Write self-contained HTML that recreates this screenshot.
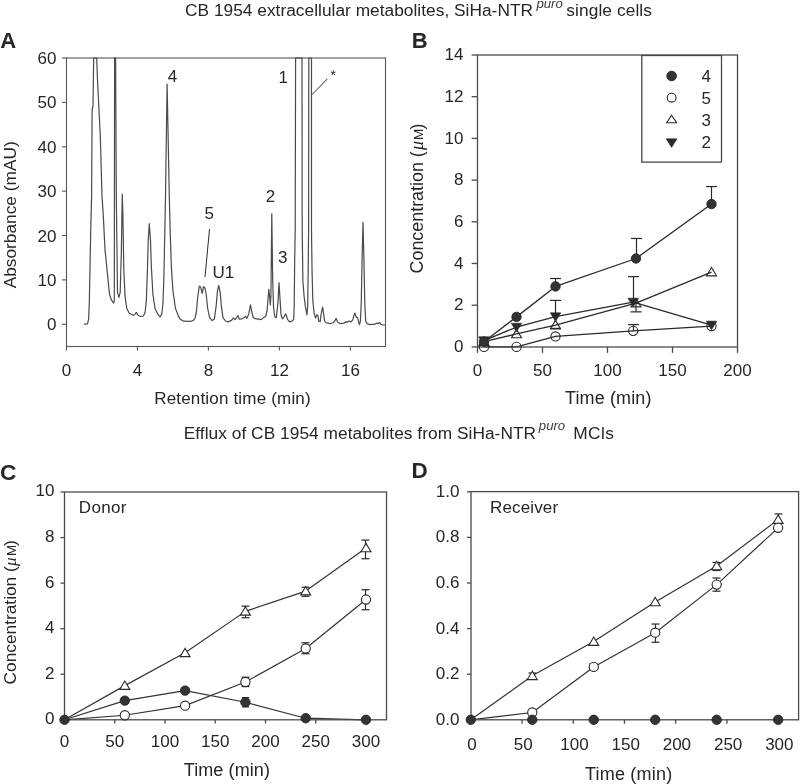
<!DOCTYPE html>
<html><head><meta charset="utf-8"><style>
html,body{margin:0;padding:0;background:#fff;width:800px;height:784px;overflow:hidden}
svg{display:block;will-change:transform}
</style></head><body>
<svg width="800" height="784" viewBox="0 0 800 784" font-family='"Liberation Sans", sans-serif' fill="#262626">
<rect width="800" height="784" fill="#fff"/>
<text id="t1a" letter-spacing="0.03" x="185" y="16.2" font-size="17.3" text-anchor="start" font-weight="normal" >CB 1954 extracellular metabolites, SiHa-NTR</text>
<text id="t1b" x="536.4" y="7.9" font-size="13.2" text-anchor="start" font-weight="normal" font-style="italic" fill="#3a3a3a">puro</text>
<text id="t1c" letter-spacing="0.1" x="566.3" y="16.2" font-size="17.3" text-anchor="start" font-weight="normal" >single cells</text>
<text id="t2a" letter-spacing="0.05" x="183.7" y="438.8" font-size="17.3" text-anchor="start" font-weight="normal" >Efflux of CB 1954 metabolites from SiHa-NTR</text>
<text id="t2b" x="538.8" y="430.3" font-size="13.2" text-anchor="start" font-weight="normal" font-style="italic" fill="#3a3a3a">puro</text>
<text id="t2c" letter-spacing="0.4" x="573.3" y="438.8" font-size="17.3" text-anchor="start" font-weight="normal" >MCls</text>
<text id="lA" x="0.3" y="48.2" font-size="22" text-anchor="start" font-weight="bold" >A</text>
<text id="lB" x="411.8" y="47.6" font-size="22" text-anchor="start" font-weight="bold" >B</text>
<text id="lC" x="-0.1" y="480.1" font-size="22.7" text-anchor="start" font-weight="bold" >C</text>
<text id="lD" x="411.4" y="477.5" font-size="22.5" text-anchor="start" font-weight="bold" >D</text>
<rect x="66.5" y="58" width="319.0" height="288.5" fill="none" stroke="#555" stroke-width="1.1"/>
<line x1="62.00" y1="324.25" x2="66.50" y2="324.25" stroke="#555" stroke-width="1.1" />
<text x="56.5" y="330.25" font-size="17" text-anchor="end" font-weight="normal" >0</text>
<line x1="62.00" y1="279.88" x2="66.50" y2="279.88" stroke="#555" stroke-width="1.1" />
<text x="56.5" y="285.875" font-size="17" text-anchor="end" font-weight="normal" >10</text>
<line x1="62.00" y1="235.50" x2="66.50" y2="235.50" stroke="#555" stroke-width="1.1" />
<text x="56.5" y="241.5" font-size="17" text-anchor="end" font-weight="normal" >20</text>
<line x1="62.00" y1="191.12" x2="66.50" y2="191.12" stroke="#555" stroke-width="1.1" />
<text x="56.5" y="197.125" font-size="17" text-anchor="end" font-weight="normal" >30</text>
<line x1="62.00" y1="146.75" x2="66.50" y2="146.75" stroke="#555" stroke-width="1.1" />
<text x="56.5" y="152.75" font-size="17" text-anchor="end" font-weight="normal" >40</text>
<line x1="62.00" y1="102.38" x2="66.50" y2="102.38" stroke="#555" stroke-width="1.1" />
<text x="56.5" y="108.375" font-size="17" text-anchor="end" font-weight="normal" >50</text>
<line x1="62.00" y1="58.00" x2="66.50" y2="58.00" stroke="#555" stroke-width="1.1" />
<text x="56.5" y="64.0" font-size="17" text-anchor="end" font-weight="normal" >60</text>
<line x1="66.40" y1="346.50" x2="66.40" y2="350.50" stroke="#555" stroke-width="1.1" />
<text x="66.4" y="375.8" font-size="17" text-anchor="middle" font-weight="normal" >0</text>
<line x1="137.40" y1="346.50" x2="137.40" y2="350.50" stroke="#555" stroke-width="1.1" />
<text x="137.4" y="375.8" font-size="17" text-anchor="middle" font-weight="normal" >4</text>
<line x1="208.40" y1="346.50" x2="208.40" y2="350.50" stroke="#555" stroke-width="1.1" />
<text x="208.4" y="375.8" font-size="17" text-anchor="middle" font-weight="normal" >8</text>
<line x1="279.40" y1="346.50" x2="279.40" y2="350.50" stroke="#555" stroke-width="1.1" />
<text x="279.4" y="375.8" font-size="17" text-anchor="middle" font-weight="normal" >12</text>
<line x1="350.40" y1="346.50" x2="350.40" y2="350.50" stroke="#555" stroke-width="1.1" />
<text x="350.4" y="375.8" font-size="17" text-anchor="middle" font-weight="normal" >16</text>
<text id="xA" letter-spacing="0.18" x="232.5" y="403.7" font-size="17" text-anchor="middle" font-weight="normal" >Retention time (min)</text>
<text id="yA" x="15.8" y="214.8" font-size="17.3" text-anchor="middle" font-weight="normal" transform="rotate(-90 15.8 214.8)">Absorbance (mAU)</text>
<polyline points="83.90,324.20 87.50,323.90 88.60,319.20 89.30,303.10 90.00,267.40 90.70,231.70 91.60,196.00 92.10,113.00 92.30,109.00 93.00,106.00 93.70,58.00 96.70,58.00 97.50,80.00 100.30,136.00 102.00,196.00 103.20,213.90 105.00,249.60 107.70,276.40 109.50,294.20 111.25,299.60 113.60,303.10 114.30,301.40 114.60,58.00 115.60,58.00 116.30,196.00 117.50,292.40 118.90,297.40 120.20,292.40 121.40,249.60 122.25,194.00 122.90,213.90 123.75,267.40 125.00,296.00 126.80,308.50 129.10,313.00 133.20,315.30 134.50,314.75 136.25,312.40 138.00,315.30 140.70,316.50 143.40,316.00 145.20,312.00 146.40,299.60 147.50,267.40 148.20,240.60 149.30,223.70 150.50,240.60 151.40,267.40 152.90,294.20 155.00,308.50 157.70,313.90 160.00,317.00 161.80,313.90 163.00,303.00 163.90,276.40 164.80,231.70 165.50,196.00 167.10,84.10 169.30,196.00 170.20,231.70 171.40,267.40 172.90,290.60 175.50,308.50 178.20,315.60 180.00,318.90 183.60,321.20 191.00,321.30 193.50,320.30 195.00,318.00 196.40,312.00 197.60,298.00 199.30,286.20 200.70,287.00 202.10,293.30 203.60,286.70 205.00,288.00 206.40,296.00 207.70,308.50 209.50,317.40 212.10,320.60 214.30,319.20 216.10,306.70 217.50,290.60 218.75,285.30 220.20,292.40 221.40,306.70 222.90,317.40 225.50,321.00 228.20,321.90 231.80,320.10 233.20,318.00 235.00,319.60 236.80,317.40 238.00,315.60 239.30,319.20 241.60,318.90 243.90,317.80 245.70,316.50 247.00,318.30 248.75,313.90 250.50,304.90 251.80,312.00 253.20,317.40 255.90,318.90 258.60,319.20 261.25,319.60 263.90,317.40 265.70,316.50 267.10,310.30 268.80,289.30 269.80,298.40 270.30,305.00 270.90,296.40 271.80,213.80 272.65,278.00 273.50,306.60 274.70,316.80 276.30,317.80 278.00,302.50 279.00,282.50 280.00,298.40 281.00,314.80 282.40,318.90 284.10,316.80 285.70,313.80 287.55,319.30 289.50,321.80 292.00,321.20 293.70,319.30 294.20,306.50 294.60,268.30 295.20,230.00 295.60,58.00 302.00,58.00 302.20,230.00 302.90,281.00 304.10,296.30 305.40,306.50 306.90,314.80 307.70,306.50 308.20,268.30 308.60,230.00 308.80,58.00 311.50,58.00 311.50,230.00 312.00,268.30 312.80,300.20 314.10,312.90 315.60,318.00 316.90,314.80 317.90,315.50 318.80,321.20 320.10,321.80 321.35,312.90 322.60,307.20 323.50,312.90 324.50,320.60 325.80,322.50 327.70,323.10 330.00,323.75 333.00,322.80 334.80,321.00 336.10,318.30 337.50,321.90 340.20,323.70 343.75,323.10 346.10,321.90 347.30,322.40 349.10,321.00 350.90,321.90 352.70,320.10 353.90,315.60 355.00,313.00 356.25,317.40 357.50,317.40 358.60,321.90 359.50,324.60 360.40,321.00 361.25,303.10 362.10,258.50 363.00,222.40 363.90,258.50 364.80,303.10 365.70,321.00 367.00,323.70 370.50,324.60 375.00,324.20 376.80,323.10 378.20,323.70 379.50,322.40 380.70,324.20 383.00,325.00 385.00,325.00" fill="none" stroke="#4a4a4a" stroke-width="1.2" stroke-linejoin="round"/>
<text x="167.8" y="81.8" font-size="17" text-anchor="start" font-weight="normal" >4</text>
<text x="278.5" y="83.2" font-size="17" text-anchor="start" font-weight="normal" >1</text>
<text x="330.5" y="80" font-size="14" text-anchor="start" font-weight="normal" >*</text>
<line x1="312.00" y1="94.60" x2="327.40" y2="78.90" stroke="#2a2a2a" stroke-width="1.0" />
<text x="204.5" y="218.9" font-size="17" text-anchor="start" font-weight="normal" >5</text>
<line x1="209.50" y1="229.00" x2="205.00" y2="277.25" stroke="#2a2a2a" stroke-width="1.0" />
<text x="212.5" y="278.1" font-size="17" text-anchor="start" font-weight="normal" >U1</text>
<text x="265.7" y="201.5" font-size="17" text-anchor="start" font-weight="normal" >2</text>
<text x="278" y="262.7" font-size="17" text-anchor="start" font-weight="normal" >3</text>
<polyline points="484.00,346.90 516.50,346.90 555.50,336.47 633.20,330.85 711.50,326.05" fill="none" stroke="#2a2a2a" stroke-width="1.3" stroke-linejoin="round"/>
<polyline points="484.00,341.69 516.50,333.97 555.50,325.01 636.00,303.11 711.50,272.05" fill="none" stroke="#2a2a2a" stroke-width="1.3" stroke-linejoin="round"/>
<polyline points="484.00,340.64 516.50,327.09 555.50,316.67 633.20,302.07 711.50,325.01" fill="none" stroke="#2a2a2a" stroke-width="1.3" stroke-linejoin="round"/>
<polyline points="484.00,341.69 516.50,316.88 555.50,286.43 636.00,258.50 711.50,204.08" fill="none" stroke="#2a2a2a" stroke-width="1.3" stroke-linejoin="round"/>
<rect x="477.5" y="55" width="260.0" height="292" fill="none" stroke="#4a4a4a" stroke-width="1.3"/>
<line x1="471.60" y1="346.90" x2="477.50" y2="346.90" stroke="#4a4a4a" stroke-width="1.3" />
<text x="463.5" y="352.0" font-size="17" text-anchor="end" font-weight="normal" >0</text>
<line x1="471.60" y1="305.20" x2="477.50" y2="305.20" stroke="#4a4a4a" stroke-width="1.3" />
<text x="463.5" y="310.3" font-size="17" text-anchor="end" font-weight="normal" >2</text>
<line x1="471.60" y1="263.50" x2="477.50" y2="263.50" stroke="#4a4a4a" stroke-width="1.3" />
<text x="463.5" y="268.6" font-size="17" text-anchor="end" font-weight="normal" >4</text>
<line x1="471.60" y1="221.80" x2="477.50" y2="221.80" stroke="#4a4a4a" stroke-width="1.3" />
<text x="463.5" y="226.89999999999995" font-size="17" text-anchor="end" font-weight="normal" >6</text>
<line x1="471.60" y1="180.10" x2="477.50" y2="180.10" stroke="#4a4a4a" stroke-width="1.3" />
<text x="463.5" y="185.19999999999996" font-size="17" text-anchor="end" font-weight="normal" >8</text>
<line x1="471.60" y1="138.40" x2="477.50" y2="138.40" stroke="#4a4a4a" stroke-width="1.3" />
<text x="463.5" y="143.49999999999997" font-size="17" text-anchor="end" font-weight="normal" >10</text>
<line x1="471.60" y1="96.70" x2="477.50" y2="96.70" stroke="#4a4a4a" stroke-width="1.3" />
<text x="463.5" y="101.79999999999995" font-size="17" text-anchor="end" font-weight="normal" >12</text>
<line x1="471.60" y1="55.00" x2="477.50" y2="55.00" stroke="#4a4a4a" stroke-width="1.3" />
<text x="463.5" y="60.099999999999945" font-size="17" text-anchor="end" font-weight="normal" >14</text>
<line x1="477.50" y1="347.00" x2="477.50" y2="352.90" stroke="#4a4a4a" stroke-width="1.3" />
<text x="477.5" y="375.8" font-size="17" text-anchor="middle" font-weight="normal" >0</text>
<line x1="542.50" y1="347.00" x2="542.50" y2="352.90" stroke="#4a4a4a" stroke-width="1.3" />
<text x="542.5" y="375.8" font-size="17" text-anchor="middle" font-weight="normal" >50</text>
<line x1="607.50" y1="347.00" x2="607.50" y2="352.90" stroke="#4a4a4a" stroke-width="1.3" />
<text x="607.5" y="375.8" font-size="17" text-anchor="middle" font-weight="normal" >100</text>
<line x1="672.50" y1="347.00" x2="672.50" y2="352.90" stroke="#4a4a4a" stroke-width="1.3" />
<text x="672.5" y="375.8" font-size="17" text-anchor="middle" font-weight="normal" >150</text>
<line x1="737.50" y1="347.00" x2="737.50" y2="352.90" stroke="#4a4a4a" stroke-width="1.3" />
<text x="737.5" y="375.8" font-size="17" text-anchor="middle" font-weight="normal" >200</text>
<text id="xB" letter-spacing="0.13" x="608.3" y="404" font-size="18" text-anchor="middle" font-weight="normal" >Time (min)</text>
<g id="yB" transform="translate(422.6,272.6) rotate(-90)">
<text x="-0.9" y="0" font-size="17.9" text-anchor="start" font-weight="normal" >Concentration (</text>
<text x="122.7" y="0" font-size="17.9" text-anchor="start" font-weight="normal" font-family="Liberation Serif" font-style="italic">μ</text>
<text x="132.6" y="0" font-size="13.6" text-anchor="start" font-weight="normal" >M</text>
<text x="143.2" y="0" font-size="17.9" text-anchor="start" font-weight="normal" >)</text>
</g>
<line x1="555.50" y1="286.43" x2="555.50" y2="278.51" stroke="#2a2a2a" stroke-width="1.2" />
<line x1="550.00" y1="278.51" x2="561.00" y2="278.51" stroke="#2a2a2a" stroke-width="1.2" />
<line x1="636.50" y1="258.50" x2="636.50" y2="238.48" stroke="#2a2a2a" stroke-width="1.2" />
<line x1="631.00" y1="238.48" x2="642.00" y2="238.48" stroke="#2a2a2a" stroke-width="1.2" />
<line x1="711.50" y1="204.08" x2="711.50" y2="186.56" stroke="#2a2a2a" stroke-width="1.2" />
<line x1="706.00" y1="186.56" x2="717.00" y2="186.56" stroke="#2a2a2a" stroke-width="1.2" />
<line x1="633.50" y1="330.85" x2="633.50" y2="324.59" stroke="#2a2a2a" stroke-width="1.2" />
<line x1="628.00" y1="324.59" x2="639.00" y2="324.59" stroke="#2a2a2a" stroke-width="1.2" />
<line x1="555.50" y1="316.67" x2="555.50" y2="300.40" stroke="#2a2a2a" stroke-width="1.2" />
<line x1="550.00" y1="300.40" x2="561.00" y2="300.40" stroke="#2a2a2a" stroke-width="1.2" />
<line x1="633.50" y1="302.07" x2="633.50" y2="276.64" stroke="#2a2a2a" stroke-width="1.2" />
<line x1="628.00" y1="276.64" x2="639.00" y2="276.64" stroke="#2a2a2a" stroke-width="1.2" />
<line x1="636.00" y1="303.11" x2="636.00" y2="311.87" stroke="#2a2a2a" stroke-width="1.2" />
<line x1="630.50" y1="311.87" x2="641.50" y2="311.87" stroke="#2a2a2a" stroke-width="1.2" />
<line x1="550.00" y1="328.55" x2="561.00" y2="328.55" stroke="#2a2a2a" stroke-width="1.6" />
<circle cx="484.00" cy="346.90" r="4.6" fill="none" stroke="#2a2a2a" stroke-width="1.1"/>
<circle cx="516.50" cy="346.90" r="4.6" fill="none" stroke="#2a2a2a" stroke-width="1.1"/>
<circle cx="555.50" cy="336.47" r="4.6" fill="none" stroke="#2a2a2a" stroke-width="1.1"/>
<circle cx="633.20" cy="330.85" r="4.6" fill="none" stroke="#2a2a2a" stroke-width="1.1"/>
<circle cx="711.50" cy="326.05" r="4.6" fill="none" stroke="#2a2a2a" stroke-width="1.1"/>
<polygon points="484.00,337.07 479.00,345.47 489.00,345.47" fill="none" stroke="#2a2a2a" stroke-width="1.1" stroke-linejoin="miter"/>
<polygon points="516.50,329.35 511.50,337.75 521.50,337.75" fill="none" stroke="#2a2a2a" stroke-width="1.1" stroke-linejoin="miter"/>
<polygon points="555.50,320.39 550.50,328.79 560.50,328.79" fill="none" stroke="#2a2a2a" stroke-width="1.1" stroke-linejoin="miter"/>
<polygon points="636.00,298.49 631.00,306.89 641.00,306.89" fill="none" stroke="#2a2a2a" stroke-width="1.1" stroke-linejoin="miter"/>
<polygon points="711.50,267.43 706.50,275.83 716.50,275.83" fill="none" stroke="#2a2a2a" stroke-width="1.1" stroke-linejoin="miter"/>
<polygon points="478.70,336.77 489.30,336.77 484.00,345.38" fill="#2a2a2a" stroke="#2a2a2a" stroke-width="0.6"/>
<polygon points="511.20,323.22 521.80,323.22 516.50,331.82" fill="#2a2a2a" stroke="#2a2a2a" stroke-width="0.6"/>
<polygon points="550.20,312.80 560.80,312.80 555.50,321.40" fill="#2a2a2a" stroke="#2a2a2a" stroke-width="0.6"/>
<polygon points="627.90,298.20 638.50,298.20 633.20,306.80" fill="#2a2a2a" stroke="#2a2a2a" stroke-width="0.6"/>
<polygon points="706.20,321.14 716.80,321.14 711.50,329.74" fill="#2a2a2a" stroke="#2a2a2a" stroke-width="0.6"/>
<circle cx="484.00" cy="341.69" r="4.7" fill="#333" stroke="#262626" stroke-width="0.9"/>
<circle cx="516.50" cy="316.88" r="4.7" fill="#333" stroke="#262626" stroke-width="0.9"/>
<circle cx="555.50" cy="286.43" r="4.7" fill="#333" stroke="#262626" stroke-width="0.9"/>
<circle cx="636.00" cy="258.50" r="4.7" fill="#333" stroke="#262626" stroke-width="0.9"/>
<circle cx="711.50" cy="204.08" r="4.7" fill="#333" stroke="#262626" stroke-width="0.9"/>
<rect x="641.8" y="55.5" width="79.7" height="106.6" fill="#fff" stroke="#4a4a4a" stroke-width="1.3"/>
<circle cx="671.60" cy="76.00" r="4.8" fill="#333" stroke="#262626" stroke-width="0.9"/>
<circle cx="671.60" cy="97.70" r="4.4" fill="#fff" stroke="#2a2a2a" stroke-width="1.1"/>
<polygon points="671.60,115.22 666.60,122.82 676.60,122.82" fill="#fff" stroke="#2a2a2a" stroke-width="1.1" stroke-linejoin="miter"/>
<polygon points="666.20,138.83 677.00,138.83 671.60,147.43" fill="#2a2a2a" stroke="#2a2a2a" stroke-width="0.6"/>
<text x="701.5" y="82.1" font-size="17" text-anchor="start" font-weight="normal" >4</text>
<text x="701.5" y="104.0" font-size="17" text-anchor="start" font-weight="normal" >5</text>
<text x="701.5" y="125.8" font-size="17" text-anchor="start" font-weight="normal" >3</text>
<text x="701.5" y="147.6" font-size="17" text-anchor="start" font-weight="normal" >2</text>
<polyline points="64.50,719.80 124.80,685.63 185.10,652.83 245.40,611.37 305.70,591.09 366.00,548.04" fill="none" stroke="#333333" stroke-width="1.2" stroke-linejoin="round"/>
<polyline points="64.50,719.80 124.80,715.24 185.10,705.68 245.40,681.99 305.70,648.50 366.00,599.52" fill="none" stroke="#333333" stroke-width="1.2" stroke-linejoin="round"/>
<polyline points="64.50,719.80 124.80,700.66 185.10,690.64 245.40,702.26 305.70,718.21 366.00,719.80" fill="none" stroke="#333333" stroke-width="1.2" stroke-linejoin="round"/>
<rect x="64.5" y="492" width="322.0" height="227.79999999999995" fill="none" stroke="#4a4a4a" stroke-width="1.3"/>
<line x1="60.50" y1="719.80" x2="64.50" y2="719.80" stroke="#4a4a4a" stroke-width="1.3" />
<text x="54.5" y="724.1999999999999" font-size="17" text-anchor="end" font-weight="normal" >0</text>
<line x1="60.50" y1="674.24" x2="64.50" y2="674.24" stroke="#4a4a4a" stroke-width="1.3" />
<text x="54.5" y="678.64" font-size="17" text-anchor="end" font-weight="normal" >2</text>
<line x1="60.50" y1="628.68" x2="64.50" y2="628.68" stroke="#4a4a4a" stroke-width="1.3" />
<text x="54.5" y="633.0799999999999" font-size="17" text-anchor="end" font-weight="normal" >4</text>
<line x1="60.50" y1="583.12" x2="64.50" y2="583.12" stroke="#4a4a4a" stroke-width="1.3" />
<text x="54.5" y="587.5199999999999" font-size="17" text-anchor="end" font-weight="normal" >6</text>
<line x1="60.50" y1="537.56" x2="64.50" y2="537.56" stroke="#4a4a4a" stroke-width="1.3" />
<text x="54.5" y="541.9599999999999" font-size="17" text-anchor="end" font-weight="normal" >8</text>
<line x1="60.50" y1="492.00" x2="64.50" y2="492.00" stroke="#4a4a4a" stroke-width="1.3" />
<text x="54.5" y="496.3999999999999" font-size="17" text-anchor="end" font-weight="normal" >10</text>
<line x1="64.50" y1="719.80" x2="64.50" y2="723.50" stroke="#4a4a4a" stroke-width="1.3" />
<text x="64.5" y="747.4" font-size="17" text-anchor="middle" font-weight="normal" >0</text>
<line x1="114.75" y1="719.80" x2="114.75" y2="723.50" stroke="#4a4a4a" stroke-width="1.3" />
<text x="114.75" y="747.4" font-size="17" text-anchor="middle" font-weight="normal" >50</text>
<line x1="165.00" y1="719.80" x2="165.00" y2="723.50" stroke="#4a4a4a" stroke-width="1.3" />
<text x="165.0" y="747.4" font-size="17" text-anchor="middle" font-weight="normal" >100</text>
<line x1="215.25" y1="719.80" x2="215.25" y2="723.50" stroke="#4a4a4a" stroke-width="1.3" />
<text x="215.24999999999997" y="747.4" font-size="17" text-anchor="middle" font-weight="normal" >150</text>
<line x1="265.50" y1="719.80" x2="265.50" y2="723.50" stroke="#4a4a4a" stroke-width="1.3" />
<text x="265.5" y="747.4" font-size="17" text-anchor="middle" font-weight="normal" >200</text>
<line x1="315.75" y1="719.80" x2="315.75" y2="723.50" stroke="#4a4a4a" stroke-width="1.3" />
<text x="315.75" y="747.4" font-size="17" text-anchor="middle" font-weight="normal" >250</text>
<line x1="366.00" y1="719.80" x2="366.00" y2="723.50" stroke="#4a4a4a" stroke-width="1.3" />
<text x="365.99999999999994" y="747.4" font-size="17" text-anchor="middle" font-weight="normal" >300</text>
<text id="xC" letter-spacing="0.1" x="226.9" y="775.9" font-size="18" text-anchor="middle" font-weight="normal" >Time (min)</text>
<g id="yC" transform="translate(16.3,683.5) rotate(-90)">
<text x="-0.9" y="0" font-size="17.3" text-anchor="start" font-weight="normal" >Concentration (</text>
<text x="117.6" y="0" font-size="17.3" text-anchor="start" font-weight="normal" font-family="Liberation Serif" font-style="italic">μ</text>
<text x="127.5" y="0" font-size="13.4" text-anchor="start" font-weight="normal" >M</text>
<text x="137.6" y="0" font-size="17.3" text-anchor="start" font-weight="normal" >)</text>
</g>
<text id="donor" letter-spacing="0.35" x="78.8" y="513.4" font-size="17" text-anchor="start" font-weight="normal" >Donor</text>
<line x1="245.50" y1="606.13" x2="245.50" y2="617.75" stroke="#2a2a2a" stroke-width="1.2" />
<line x1="241.50" y1="606.13" x2="249.50" y2="606.13" stroke="#2a2a2a" stroke-width="1.2" />
<line x1="241.50" y1="617.75" x2="249.50" y2="617.75" stroke="#2a2a2a" stroke-width="1.2" />
<line x1="305.50" y1="587.22" x2="305.50" y2="596.33" stroke="#2a2a2a" stroke-width="1.2" />
<line x1="301.50" y1="587.22" x2="309.50" y2="587.22" stroke="#2a2a2a" stroke-width="1.2" />
<line x1="301.50" y1="596.33" x2="309.50" y2="596.33" stroke="#2a2a2a" stroke-width="1.2" />
<line x1="365.50" y1="540.07" x2="365.50" y2="558.75" stroke="#2a2a2a" stroke-width="1.2" />
<line x1="361.50" y1="540.07" x2="369.50" y2="540.07" stroke="#2a2a2a" stroke-width="1.2" />
<line x1="361.50" y1="558.75" x2="369.50" y2="558.75" stroke="#2a2a2a" stroke-width="1.2" />
<line x1="245.50" y1="677.20" x2="245.50" y2="686.54" stroke="#2a2a2a" stroke-width="1.2" />
<line x1="241.50" y1="677.20" x2="249.50" y2="677.20" stroke="#2a2a2a" stroke-width="1.2" />
<line x1="241.50" y1="686.54" x2="249.50" y2="686.54" stroke="#2a2a2a" stroke-width="1.2" />
<line x1="305.50" y1="642.80" x2="305.50" y2="653.74" stroke="#2a2a2a" stroke-width="1.2" />
<line x1="301.50" y1="642.80" x2="309.50" y2="642.80" stroke="#2a2a2a" stroke-width="1.2" />
<line x1="301.50" y1="653.74" x2="309.50" y2="653.74" stroke="#2a2a2a" stroke-width="1.2" />
<line x1="365.50" y1="589.73" x2="365.50" y2="609.77" stroke="#2a2a2a" stroke-width="1.2" />
<line x1="361.50" y1="589.73" x2="369.50" y2="589.73" stroke="#2a2a2a" stroke-width="1.2" />
<line x1="361.50" y1="609.77" x2="369.50" y2="609.77" stroke="#2a2a2a" stroke-width="1.2" />
<line x1="245.50" y1="697.70" x2="245.50" y2="706.82" stroke="#2a2a2a" stroke-width="1.2" />
<line x1="241.80" y1="697.70" x2="249.20" y2="697.70" stroke="#2a2a2a" stroke-width="1.2" />
<line x1="241.80" y1="706.82" x2="249.20" y2="706.82" stroke="#2a2a2a" stroke-width="1.2" />
<polygon points="124.80,681.01 119.80,689.41 129.80,689.41" fill="#fff" stroke="#2a2a2a" stroke-width="1.1" stroke-linejoin="miter"/>
<polygon points="185.10,648.21 180.10,656.61 190.10,656.61" fill="#fff" stroke="#2a2a2a" stroke-width="1.1" stroke-linejoin="miter"/>
<polygon points="245.40,606.75 240.40,615.15 250.40,615.15" fill="#fff" stroke="#2a2a2a" stroke-width="1.1" stroke-linejoin="miter"/>
<polygon points="305.70,586.47 300.70,594.87 310.70,594.87" fill="#fff" stroke="#2a2a2a" stroke-width="1.1" stroke-linejoin="miter"/>
<polygon points="366.00,543.42 361.00,551.82 371.00,551.82" fill="#fff" stroke="#2a2a2a" stroke-width="1.1" stroke-linejoin="miter"/>
<circle cx="124.80" cy="715.24" r="4.6" fill="#fff" stroke="#2a2a2a" stroke-width="1.1"/>
<circle cx="185.10" cy="705.68" r="4.6" fill="#fff" stroke="#2a2a2a" stroke-width="1.1"/>
<circle cx="245.40" cy="681.99" r="4.6" fill="#fff" stroke="#2a2a2a" stroke-width="1.1"/>
<circle cx="305.70" cy="648.50" r="4.6" fill="#fff" stroke="#2a2a2a" stroke-width="1.1"/>
<circle cx="366.00" cy="599.52" r="4.6" fill="#fff" stroke="#2a2a2a" stroke-width="1.1"/>
<circle cx="64.50" cy="719.80" r="4.7" fill="#333" stroke="#262626" stroke-width="0.9"/>
<circle cx="124.80" cy="700.66" r="4.7" fill="#333" stroke="#262626" stroke-width="0.9"/>
<circle cx="185.10" cy="690.64" r="4.7" fill="#333" stroke="#262626" stroke-width="0.9"/>
<circle cx="245.40" cy="702.26" r="4.7" fill="#333" stroke="#262626" stroke-width="0.9"/>
<circle cx="305.70" cy="718.21" r="4.7" fill="#333" stroke="#262626" stroke-width="0.9"/>
<circle cx="366.00" cy="719.80" r="4.7" fill="#333" stroke="#262626" stroke-width="0.9"/>
<polyline points="470.80,719.80 532.27,675.80 593.74,641.60 655.21,601.92 716.68,565.90 778.15,519.62" fill="none" stroke="#333333" stroke-width="1.2" stroke-linejoin="round"/>
<polyline points="470.80,719.80 532.27,712.50 593.74,666.90 655.21,632.70 716.68,584.60 778.15,527.82" fill="none" stroke="#333333" stroke-width="1.2" stroke-linejoin="round"/>
<rect x="471" y="491.6" width="327.6" height="228.19999999999993" fill="none" stroke="#4a4a4a" stroke-width="1.3"/>
<line x1="467.00" y1="719.80" x2="471.00" y2="719.80" stroke="#4a4a4a" stroke-width="1.3" />
<text x="459.5" y="724.6999999999999" font-size="17" text-anchor="end" font-weight="normal" >0.0</text>
<line x1="467.00" y1="674.20" x2="471.00" y2="674.20" stroke="#4a4a4a" stroke-width="1.3" />
<text x="459.5" y="679.0999999999999" font-size="17" text-anchor="end" font-weight="normal" >0.2</text>
<line x1="467.00" y1="628.60" x2="471.00" y2="628.60" stroke="#4a4a4a" stroke-width="1.3" />
<text x="459.5" y="633.4999999999999" font-size="17" text-anchor="end" font-weight="normal" >0.4</text>
<line x1="467.00" y1="583.00" x2="471.00" y2="583.00" stroke="#4a4a4a" stroke-width="1.3" />
<text x="459.5" y="587.9" font-size="17" text-anchor="end" font-weight="normal" >0.6</text>
<line x1="467.00" y1="537.40" x2="471.00" y2="537.40" stroke="#4a4a4a" stroke-width="1.3" />
<text x="459.5" y="542.3" font-size="17" text-anchor="end" font-weight="normal" >0.8</text>
<line x1="467.00" y1="491.80" x2="471.00" y2="491.80" stroke="#4a4a4a" stroke-width="1.3" />
<text x="459.5" y="496.69999999999993" font-size="17" text-anchor="end" font-weight="normal" >1.0</text>
<line x1="470.80" y1="719.80" x2="470.80" y2="723.80" stroke="#4a4a4a" stroke-width="1.3" />
<text x="472.0" y="749.6" font-size="17" text-anchor="middle" font-weight="normal" >0</text>
<line x1="522.02" y1="719.80" x2="522.02" y2="723.80" stroke="#4a4a4a" stroke-width="1.3" />
<text x="523.225" y="749.6" font-size="17" text-anchor="middle" font-weight="normal" >50</text>
<line x1="573.25" y1="719.80" x2="573.25" y2="723.80" stroke="#4a4a4a" stroke-width="1.3" />
<text x="574.45" y="749.6" font-size="17" text-anchor="middle" font-weight="normal" >100</text>
<line x1="624.48" y1="719.80" x2="624.48" y2="723.80" stroke="#4a4a4a" stroke-width="1.3" />
<text x="625.6750000000001" y="749.6" font-size="17" text-anchor="middle" font-weight="normal" >150</text>
<line x1="675.70" y1="719.80" x2="675.70" y2="723.80" stroke="#4a4a4a" stroke-width="1.3" />
<text x="676.9000000000001" y="749.6" font-size="17" text-anchor="middle" font-weight="normal" >200</text>
<line x1="726.92" y1="719.80" x2="726.92" y2="723.80" stroke="#4a4a4a" stroke-width="1.3" />
<text x="728.125" y="749.6" font-size="17" text-anchor="middle" font-weight="normal" >250</text>
<line x1="778.15" y1="719.80" x2="778.15" y2="723.80" stroke="#4a4a4a" stroke-width="1.3" />
<text x="779.35" y="749.6" font-size="17" text-anchor="middle" font-weight="normal" >300</text>
<text id="xD" letter-spacing="0.2" x="628.7" y="779.7" font-size="18" text-anchor="middle" font-weight="normal" >Time (min)</text>
<text id="recv" letter-spacing="0.15" x="490" y="513" font-size="17" text-anchor="start" font-weight="normal" >Receiver</text>
<line x1="532.50" y1="673.06" x2="532.50" y2="678.76" stroke="#2a2a2a" stroke-width="1.2" />
<line x1="528.50" y1="673.06" x2="536.50" y2="673.06" stroke="#2a2a2a" stroke-width="1.2" />
<line x1="528.50" y1="678.76" x2="536.50" y2="678.76" stroke="#2a2a2a" stroke-width="1.2" />
<line x1="655.50" y1="624.04" x2="655.50" y2="642.28" stroke="#2a2a2a" stroke-width="1.2" />
<line x1="651.50" y1="624.04" x2="659.50" y2="624.04" stroke="#2a2a2a" stroke-width="1.2" />
<line x1="651.50" y1="642.28" x2="659.50" y2="642.28" stroke="#2a2a2a" stroke-width="1.2" />
<line x1="593.50" y1="663.94" x2="593.50" y2="669.64" stroke="#2a2a2a" stroke-width="1.2" />
<line x1="589.50" y1="663.94" x2="597.50" y2="663.94" stroke="#2a2a2a" stroke-width="1.2" />
<line x1="589.50" y1="669.64" x2="597.50" y2="669.64" stroke="#2a2a2a" stroke-width="1.2" />
<line x1="716.50" y1="562.48" x2="716.50" y2="570.46" stroke="#2a2a2a" stroke-width="1.2" />
<line x1="712.50" y1="562.48" x2="720.50" y2="562.48" stroke="#2a2a2a" stroke-width="1.2" />
<line x1="712.50" y1="570.46" x2="720.50" y2="570.46" stroke="#2a2a2a" stroke-width="1.2" />
<line x1="716.50" y1="577.98" x2="716.50" y2="591.21" stroke="#2a2a2a" stroke-width="1.2" />
<line x1="712.50" y1="577.98" x2="720.50" y2="577.98" stroke="#2a2a2a" stroke-width="1.2" />
<line x1="712.50" y1="591.21" x2="720.50" y2="591.21" stroke="#2a2a2a" stroke-width="1.2" />
<line x1="778.50" y1="519.62" x2="778.50" y2="513.92" stroke="#2a2a2a" stroke-width="1.2" />
<line x1="774.50" y1="513.92" x2="782.50" y2="513.92" stroke="#2a2a2a" stroke-width="1.2" />
<polygon points="532.27,671.18 527.27,679.58 537.27,679.58" fill="#fff" stroke="#2a2a2a" stroke-width="1.1" stroke-linejoin="miter"/>
<polygon points="593.74,636.98 588.74,645.38 598.74,645.38" fill="#fff" stroke="#2a2a2a" stroke-width="1.1" stroke-linejoin="miter"/>
<polygon points="655.21,597.30 650.21,605.70 660.21,605.70" fill="#fff" stroke="#2a2a2a" stroke-width="1.1" stroke-linejoin="miter"/>
<polygon points="716.68,561.28 711.68,569.68 721.68,569.68" fill="#fff" stroke="#2a2a2a" stroke-width="1.1" stroke-linejoin="miter"/>
<polygon points="778.15,515.00 773.15,523.40 783.15,523.40" fill="#fff" stroke="#2a2a2a" stroke-width="1.1" stroke-linejoin="miter"/>
<circle cx="532.27" cy="712.50" r="4.6" fill="#fff" stroke="#2a2a2a" stroke-width="1.1"/>
<circle cx="593.74" cy="666.90" r="4.6" fill="#fff" stroke="#2a2a2a" stroke-width="1.1"/>
<circle cx="655.21" cy="632.70" r="4.6" fill="#fff" stroke="#2a2a2a" stroke-width="1.1"/>
<circle cx="716.68" cy="584.60" r="4.6" fill="#fff" stroke="#2a2a2a" stroke-width="1.1"/>
<circle cx="778.15" cy="527.82" r="4.6" fill="#fff" stroke="#2a2a2a" stroke-width="1.1"/>
<circle cx="470.80" cy="719.80" r="4.7" fill="#333" stroke="#262626" stroke-width="0.9"/>
<circle cx="532.27" cy="719.80" r="4.7" fill="#333" stroke="#262626" stroke-width="0.9"/>
<circle cx="593.74" cy="719.80" r="4.7" fill="#333" stroke="#262626" stroke-width="0.9"/>
<circle cx="655.21" cy="719.80" r="4.7" fill="#333" stroke="#262626" stroke-width="0.9"/>
<circle cx="716.68" cy="719.80" r="4.7" fill="#333" stroke="#262626" stroke-width="0.9"/>
<circle cx="778.15" cy="719.80" r="4.7" fill="#333" stroke="#262626" stroke-width="0.9"/>
</svg>
</body></html>
